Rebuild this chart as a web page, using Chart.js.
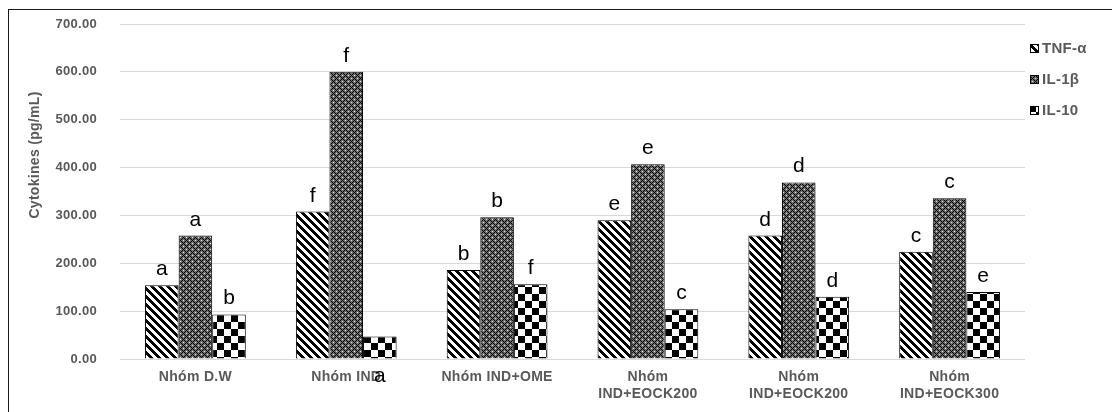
<!DOCTYPE html>
<html lang="vi">
<head>
    <meta charset="UTF-8">
    <title>Cytokines</title>
    <script src="https://cdn.jsdelivr.net/npm/chart.js"></script>
    <style>
        body {
            margin: 0;
            background: #fff;
        }

        .frame {
            position: relative;
            width: 1112px;
            height: 412px;
            overflow: hidden;
        }

        .frame::before {
            content: '';
            position: absolute;
            left: 8px;
            top: 9px;
            right: -5px;
            bottom: -5px;
            border-left: 1px solid #1a1a1a;
            border-top: 1px solid #1a1a1a;
        }

        canvas {
            position: absolute;
            left: 0;
            top: 0;
        }
    </style>
</head>
<body>
    <div class="frame">
        <canvas id="cytoChart" width="1112" height="412"></canvas>
    </div>

    <script>
        const groups = ['Nhóm D.W', 'Nhóm IND', 'Nhóm IND+OME',
            ['Nhóm', 'IND+EOCK200'], ['Nhóm', 'IND+EOCK200'], ['Nhóm', 'IND+EOCK300']];
        const seriesNames = ['TNF-α', 'IL-1β', 'IL-10'];

        const tnf = [154, 308, 186, 290, 258, 224];
        const il1b = [258, 600, 296, 407, 369, 336];
        const il10 = [93, 47, 156, 104, 130, 140];

        // significance letters above each bar
        const tnfLetters = ['a', 'f', 'b', 'e', 'd', 'c'];
        const il1bLetters = ['a', 'f', 'b', 'e', 'd', 'c'];
        const il10Letters = ['b', 'a', 'f', 'c', 'd', 'e'];

        const yTicks = [0, 100, 200, 300, 400, 500, 600, 700];

        const axisFont = '"Liberation Sans", Arial, sans-serif';
        const axisGrey = '#595959';

        // --- fill patterns, built pixel by pixel ---
        function makeTile(size, colorAt) {
            const c = document.createElement('canvas');
            c.width = size;
            c.height = size;
            const t = c.getContext('2d');
            for (let y = 0; y < size; y++) {
                for (let x = 0; x < size; x++) {
                    t.fillStyle = colorAt(x, y);
                    t.fillRect(x, y, 1, 1);
                }
            }
            return t.createPattern(c, 'repeat');
        }

        const stripes = makeTile(8, (x, y) => (((x - y) % 8 + 8) % 8) < 4 ? '#000' : '#fff');

        const diamonds = makeTile(6, (x, y) => {
            if ((x + y) % 6 === 0 || ((x - y) % 6 + 6) % 6 === 0) return '#000';
            if ((x === 3 && y === 0) || (x === 0 && y === 3)) return '#e6e6e6';
            return '#6b6b6b';
        });

        const checker = makeTile(14, (x, y) => ((Math.floor(x / 7) + Math.floor(y / 7)) % 2 === 0) ? '#000' : '#fff');

        const fills = [stripes, diamonds, checker];
        const letters = [tnfLetters, il1bLetters, il10Letters];

        const extras = {
            id: 'extras',
            beforeDraw(chart) {
                // the original's text runs slightly wide
                chart.ctx.letterSpacing = '0.3px';
            },
            afterDatasetsDraw(chart) {
                const ctx = chart.ctx;
                const area = chart.chartArea;
                ctx.save();
                ctx.letterSpacing = '0px';

                // letters over bars
                ctx.font = '21px "Liberation Sans", Arial, sans-serif';
                ctx.fillStyle = '#000';
                ctx.textAlign = 'center';
                ctx.textBaseline = 'alphabetic';
                chart.data.datasets.forEach((ds, i) => {
                    chart.getDatasetMeta(i).data.forEach((bar, j) => {
                        let y = bar.y - 10;
                        // this one sits under the axis in the original
                        if (i === 2 && j === 1) y = area.bottom + 23;
                        ctx.fillText(letters[i][j], bar.x, y);
                    });
                });

                ctx.letterSpacing = '0.3px';

                // y axis title
                ctx.save();
                ctx.translate(35, 155);
                ctx.rotate(-Math.PI / 2);
                ctx.font = 'bold 14px ' + axisFont;
                ctx.fillStyle = axisGrey;
                ctx.textAlign = 'center';
                ctx.textBaseline = 'middle';
                ctx.fillText('Cytokines (pg/mL)', 0, 0);
                ctx.restore();

                // legend
                ctx.font = 'bold 15px ' + axisFont;
                ctx.textAlign = 'left';
                ctx.textBaseline = 'middle';
                chart.data.datasets.forEach((ds, i) => {
                    const y = 48 + i * 31;
                    ctx.fillStyle = ds.backgroundColor;
                    ctx.fillRect(1030, y - 4, 9, 9);
                    ctx.strokeStyle = '#000';
                    ctx.lineWidth = 1;
                    ctx.strokeRect(1030.5, y - 3.5, 8, 8);
                    ctx.fillStyle = axisGrey;
                    ctx.fillText(ds.label, 1042, y + 1);
                });

                ctx.restore();
            }
        };

        new Chart(document.getElementById('cytoChart'), {
            type: 'bar',
            data: {
                labels: groups,
                datasets: [tnf, il1b, il10].map((vals, i) => ({
                    label: seriesNames[i],
                    data: vals,
                    backgroundColor: fills[i],
                    borderColor: '#000',
                    borderWidth: 1,
                    categoryPercentage: 0.668,
                    barPercentage: 1
                }))
            },
            options: {
                responsive: false,
                animation: false,
                layout: {
                    padding: { left: 0, right: 87, top: 24, bottom: 0 }
                },
                plugins: {
                    legend: { display: false },
                    tooltip: { enabled: false }
                },
                scales: {
                    x: {
                        grid: { display: false, drawTicks: false },
                        border: { display: false },
                        ticks: {
                            color: axisGrey,
                            font: { family: axisFont, weight: 'bold', size: 14, lineHeight: 1.25 },
                            padding: 9,
                            maxRotation: 0,
                            autoSkip: false
                        },
                        afterFit(scale) { scale.height = 53; }
                    },
                    y: {
                        min: yTicks[0],
                        max: yTicks[yTicks.length - 1],
                        afterBuildTicks(scale) {
                            scale.ticks = yTicks.map(v => ({ value: v }));
                        },
                        grid: { color: '#d9d9d9', drawTicks: false },
                        border: { display: false },
                        ticks: {
                            color: axisGrey,
                            font: { family: axisFont, weight: 'bold', size: 13 },
                            padding: 23,
                            callback: v => v.toFixed(2)
                        },
                        afterFit(scale) {
                            scale.width = 120;
                            // tick padding would otherwise push the plot top down
                            scale.paddingTop = 0;
                            scale.paddingBottom = 0;
                        }
                    }
                }
            },
            plugins: [extras]
        });
    </script>
</body>
</html>
